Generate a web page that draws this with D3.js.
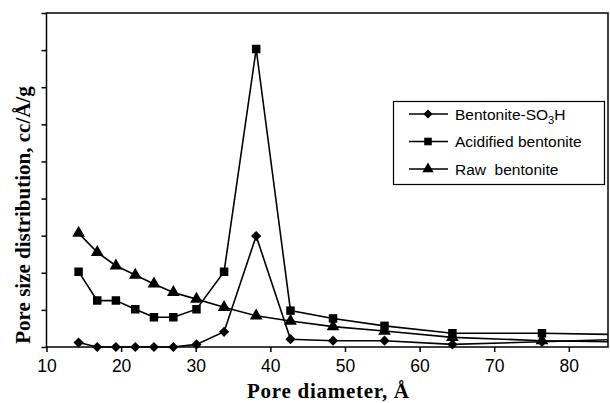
<!DOCTYPE html>
<html>
<head>
    <meta charset="utf-8">
    <title>Pore size distribution</title>
    <script src="https://d3js.org/d3.v7.min.js"></script>
    <style>
        body { margin: 0; background: #fff; }
        .axis path, .axis line { stroke: #000; stroke-width: 1.5px; }
        .axis text { font: 17.5px Arial, "Liberation Sans", sans-serif; fill: #000; }
        .series { fill: none; stroke: #000; stroke-width: 1.6px; }
        .title { font-family: "Times New Roman", "Liberation Serif", serif; font-weight: bold; font-size: 21px; }
        .legend text { font: 15.5px Arial, "Liberation Sans", sans-serif; }
    </style>
</head>
<body>
<svg width="610" height="403"></svg>
<script>
    // pore diameters (Å); the last point lies past the right edge and is clipped
    var diameters = [14.3, 16.8, 19.3, 21.9, 24.4, 27.0, 30.1, 33.8, 38.1, 42.7, 48.4, 55.3, 64.4, 76.4, 88];
    var so3h      = [0.12, 0.0, 0.0, 0.0, 0.0, 0.0, 0.07, 0.41, 2.99, 0.21, 0.17, 0.17, 0.07, 0.14, 0.21];
    var acidified = [2.03, 1.25, 1.25, 1.02, 0.80, 0.80, 1.02, 2.03, 8.03, 0.98, 0.77, 0.57, 0.37, 0.37, 0.33];
    var raw       = [3.07, 2.55, 2.19, 1.94, 1.70, 1.47, 1.29, 1.07, 0.84, 0.70, 0.55, 0.43, 0.26, 0.17, 0.13];
    var seriesNames = ["Bentonite-SO3H", "Acidified bentonite", "Raw  bentonite"];
    var xTicks = [10, 20, 30, 40, 50, 60, 70, 80];
    var yTicks = [0, 1, 2, 3, 4, 5, 6, 7, 8, 9];

    var svg = d3.select("svg"),
        mLeft = 46.5, mRight = 608, mTop = 13, mBottom = 347;

    var x = d3.scaleLinear().domain([10, 85.25]).range([mLeft, mRight]);
    var y = d3.scaleLinear().domain([0, 9]).range([mBottom, mTop]);

    svg.append("clipPath").attr("id", "plot")
        .append("rect")
        .attr("x", mLeft).attr("y", mTop - 8)
        .attr("width", mRight - mLeft).attr("height", mBottom - mTop + 16);

    svg.append("g").attr("class", "axis")
        .attr("transform", "translate(0," + mBottom + ")")
        .call(d3.axisBottom(x).tickValues(xTicks).tickSize(5).tickPadding(8).tickSizeOuter(0))
        .call(function (g) { g.select(".domain").remove(); });

    svg.append("g").attr("class", "axis")
        .attr("transform", "translate(" + mLeft + ",0)")
        .call(d3.axisLeft(y).tickValues(yTicks).tickSize(5).tickFormat("").tickSizeOuter(0))
        .call(function (g) { g.select(".domain").remove(); });

    // frame
    svg.append("rect")
        .attr("x", mLeft).attr("y", mTop)
        .attr("width", mRight - mLeft).attr("height", mBottom - mTop)
        .attr("fill", "none").attr("stroke", "#000").attr("stroke-width", 1.5);

    // diamond = square turned 45 degrees
    var series = [
        { name: seriesNames[0], values: so3h, symbol: d3.symbolSquare, size: 52, rot: 45 },
        { name: seriesNames[1], values: acidified, symbol: d3.symbolSquare, size: 72, rot: 0 },
        { name: seriesNames[2], values: raw, symbol: d3.symbolTriangle, size: 70, rot: 0 }
    ];

    var line = d3.line()
        .x(function (d) { return x(d[0]); })
        .y(function (d) { return y(d[1]); });

    var plot = svg.append("g").attr("clip-path", "url(#plot)");

    series.forEach(function (s) {
        var pts = diameters.map(function (d, i) { return [d, s.values[i]]; });
        plot.append("path").attr("class", "series").attr("d", line(pts));
        plot.selectAll(null)
            .data(pts)
            .enter().append("path")
            .attr("d", d3.symbol().type(s.symbol).size(s.size))
            .attr("transform", function (d) {
                return "translate(" + x(d[0]) + "," + y(d[1]) + ") rotate(" + s.rot + ")";
            });
    });

    // legend
    var legend = svg.append("g").attr("class", "legend");
    legend.append("rect")
        .attr("x", 393.5).attr("y", 101.5).attr("width", 211).attr("height", 83)
        .attr("fill", "#fff").attr("stroke", "#000").attr("stroke-width", 1.2);

    series.forEach(function (s, i) {
        var ly = 114 + i * 27.5;
        legend.append("line")
            .attr("x1", 409).attr("x2", 448).attr("y1", ly).attr("y2", ly)
            .attr("stroke", "#000").attr("stroke-width", 1.6);
        legend.append("path")
            .attr("d", d3.symbol().type(s.symbol).size(s.size * 0.8))
            .attr("transform", "translate(428," + ly + ") rotate(" + s.rot + ")");
        var t = legend.append("text").attr("x", 455).attr("y", ly + 5.5)
            .style("white-space", "pre");
        if (i === 0) {
            t.append("tspan").text("Bentonite-SO");
            t.append("tspan").attr("font-size", "11px").attr("dy", 4).text("3");
            t.append("tspan").attr("dy", -4).text("H");
        } else {
            t.text(s.name);
        }
    });

    // axis titles
    svg.append("text").attr("class", "title")
        .attr("x", 328).attr("y", 398)
        .attr("text-anchor", "middle")
        .attr("textLength", 162)
        .text("Pore diameter, Å");

    svg.append("text").attr("class", "title")
        .attr("transform", "translate(30,215) rotate(-90)")
        .attr("text-anchor", "middle")
        .text("Pore size distribution, cc/Å/g");
</script>
</body>
</html>
